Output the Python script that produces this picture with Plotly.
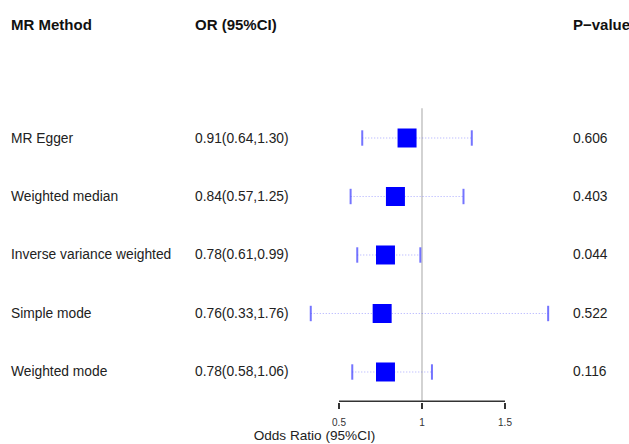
import plotly.graph_objects as go

# Mendelian randomization estimates (odds ratios with 95% CI)
methods = ["MR Egger", "Weighted median", "Inverse variance weighted",
           "Simple mode", "Weighted mode"]
odds_ratio = [0.91, 0.84, 0.78, 0.76, 0.78]
ci_low = [0.64, 0.57, 0.61, 0.33, 0.58]
ci_high = [1.30, 1.25, 0.99, 1.76, 1.06]
p_values = ["0.606", "0.403", "0.044", "0.522", "0.116"]
x_ticks = [0.5, 1, 1.5]

W, H = 629, 444
BOTTOM = 42                     # space under the plotting area for the axis
PLOT_H = H - BOTTOM
FONT = "Liberation Sans, Arial, Helvetica, sans-serif"

n = len(methods)
rows = [n - i for i in range(n)]  # top row gets the largest y value

# axis ranges (linear odds-ratio scale, rows spaced evenly)
x_range = [-1.542, 2.247]
y_range = [0.487, 7.359]

fig = go.Figure()

# reference line at OR = 1
fig.add_trace(go.Scatter(
    x=[1, 1], y=[y_range[0], n + 0.51], mode="lines",
    line=dict(color="#c4c4c4", width=1.5), hoverinfo="skip"))

# x axis baseline between the outer ticks
base_y = y_range[0] + 0.012
fig.add_trace(go.Scatter(
    x=[min(x_ticks), max(x_ticks)], y=[base_y, base_y], mode="lines",
    line=dict(color="#333333", width=1.5), hoverinfo="skip"))

# dotted confidence interval lines
for lo, hi, r in zip(ci_low, ci_high, rows):
    fig.add_trace(go.Scatter(
        x=[lo, hi], y=[r, r], mode="lines",
        line=dict(color="rgba(90,90,255,0.5)", width=1, dash="1px,2px"),
        hoverinfo="skip"))

# interval end caps
fig.add_trace(go.Scatter(
    x=ci_low + ci_high, y=rows + rows, mode="markers",
    marker=dict(symbol="line-ns", size=11,
                line=dict(color="rgba(70,70,255,0.75)", width=2)),
    hoverinfo="skip"))

# point estimates
fig.add_trace(go.Scatter(
    x=odds_ratio, y=rows, mode="markers",
    marker=dict(symbol="square", size=19, color="#0000ff",
                line=dict(width=0)),
    hovertext=methods))

annotations = []
col_x = {"method": 9, "or": 193, "p": 571}
header_y = 1 - 25 / PLOT_H
for key, txt in [("method", "MR Method"), ("or", "OR (95%CI)"), ("p", "P\u2212value")]:
    annotations.append(dict(
        x=col_x[key] / W, y=header_y, xref="paper", yref="paper",
        text=f"<b>{txt}</b>", showarrow=False, xanchor="left", yanchor="middle",
        font=dict(family=FONT, size=15, color="#111111")))

for m, o, lo, hi, p, r in zip(methods, odds_ratio, ci_low, ci_high, p_values, rows):
    for key, txt in [("method", m), ("or", f"{o:.2f}({lo:.2f},{hi:.2f})"), ("p", p)]:
        annotations.append(dict(
            x=col_x[key] / W, y=r, xref="paper", yref="y",
            text=txt, showarrow=False, xanchor="left", yanchor="middle",
            font=dict(family=FONT, size=13.8, color="#222222")))

fig.update_layout(
    width=W, height=H,
    margin=dict(l=0, r=0, t=0, b=BOTTOM),
    paper_bgcolor="white", plot_bgcolor="white",
    showlegend=False,
    annotations=annotations,
    xaxis=dict(range=x_range, showgrid=False, zeroline=False, showline=False,
               tickmode="array", tickvals=x_ticks, ticktext=["0.5", "1", "1.5"],
               ticks="outside", ticklen=6, tickwidth=1.5, tickcolor="#333333",
               ticklabelstandoff=5,
               tickfont=dict(family=FONT, size=10, color="#333333"),
               title=dict(text="Odds Ratio (95%CI)", standoff=0,
                          font=dict(family=FONT, size=13.6, color="#222222"))),
    yaxis=dict(range=y_range, showgrid=False, zeroline=False, showline=False,
               showticklabels=False, ticks=""),
)

fig.write_html("out.html")
